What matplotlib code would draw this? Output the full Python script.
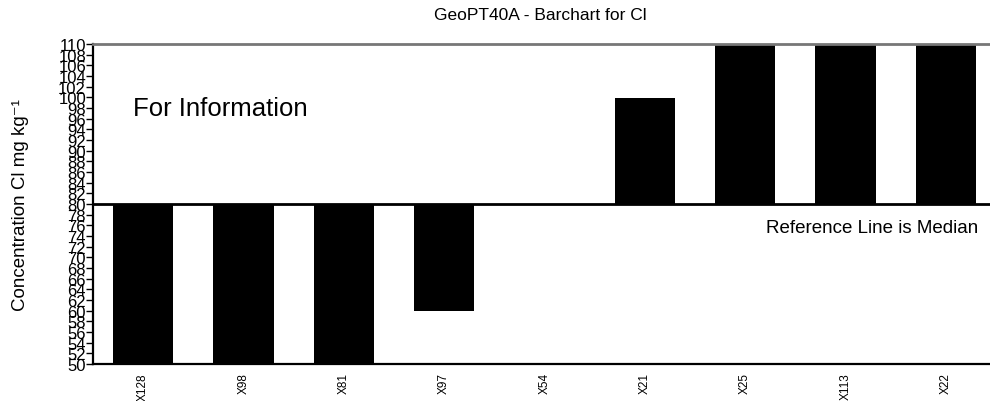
import matplotlib
matplotlib.use("Agg")
import matplotlib.pyplot as plt
import numpy as np

labs = ["X128", "X98", "X81", "X97", "X54", "X21", "X25", "X113", "X22"]
vals = [50, 50, 50, 59.9, 80, 99.9, 110, 110, 110]
median = 80
ymin, ymax = 50, 110
yt = list(range(50, 111, 2))

plt.rcParams["font.family"] = ["Liberation Sans", "DejaVu Sans"]
fig = plt.figure(figsize=(9.9, 4.02), dpi=100)
ax = fig.add_axes([93 / 990, 37 / 402, 903 / 990, 320 / 402])

x = np.arange(len(labs))
ax.bar(x, np.array(vals) - median, bottom=median, width=0.6, color="black", zorder=2)
ax.axhline(median, color="black", lw=2, zorder=3)
ax.set_xlim(-0.5, len(labs) - 0.5)
ax.set_ylim(ymin, ymax)

ax.set_yticks(yt)
ax.set_yticklabels([str(v) for v in yt], fontsize=12,
                   family=["Liberation Sans Narrow", "Liberation Sans"])
ax.tick_params(axis="y", length=5, width=1, pad=0)
ax.set_xticks(x)
ax.set_xticklabels(labs, rotation=90, fontsize=8.5)
ax.tick_params(axis="x", length=0, pad=6)

for s in ["left", "bottom"]:
    ax.spines[s].set_linewidth(1.6)
ax.spines["top"].set_linewidth(2)
ax.spines["top"].set_color("#777777")
ax.spines["right"].set_visible(False)

fig.text(540 / 990, 1 - 15 / 402, "GeoPT40A - Barchart for Cl", ha="center", va="center", fontsize=12.5)
fig.text(21 / 990, 1 - 205 / 402, "Concentration Cl mg kg\u207b\u00b9", rotation=90,
         ha="center", va="center", fontsize=13.5, family=["Liberation Sans", "DejaVu Sans"])
ax.text(0.0445, 0.8, "For Information", transform=ax.transAxes, fontsize=18.5, va="center")
ax.text(0.745, 0.425, "Reference Line is Median", transform=ax.transAxes, fontsize=13.5, va="center")

fig.savefig("out.png", dpi=100)
